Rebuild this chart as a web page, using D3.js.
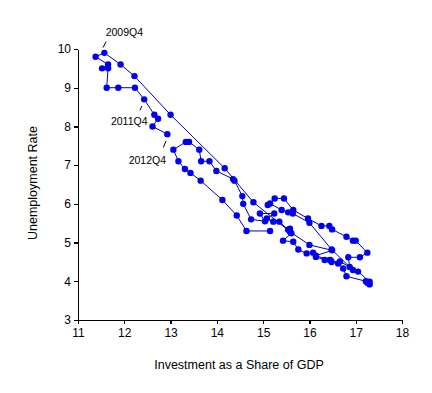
<!DOCTYPE html>
<html>
<head>
<meta charset="utf-8">
<script src="https://cdn.jsdelivr.net/npm/d3@7"></script>
<style>
  body { margin: 0; background: #fff; }
  text { font-family: Arial, "Liberation Sans", sans-serif; fill: #000; }
</style>
</head>
<body>
<svg id="chart" width="432" height="393"></svg>
<script>
// Investment share of GDP vs unemployment rate, quarterly 1990Q1 - 2012Q4

const invest = [
  15.15, 14.64, 14.43, 14.12,
  13.65, 13.43, 13.31, 13.17,
  13.06, 13.33, 13.40, 13.62,
  13.66, 13.84, 13.99, 14.35,
  14.38, 14.55, 14.57, 14.74,
  15.04, 14.93, 15.24, 15.08,
  15.22, 15.35, 15.54, 15.58,
  15.61, 15.43, 15.65, 15.76,
  15.94, 16.08, 16.14, 16.33,
  16.44, 16.62, 16.73, 16.80,
  17.22, 17.30, 17.25, 17.30,
  17.05, 16.94, 16.48, 16.00,
  15.64, 15.54, 15.40, 15.15,
  15.10, 15.25, 15.45, 15.65,
  15.97, 16.26, 16.43, 16.49,
  16.80, 16.94, 17.00, 17.25,
  17.09, 16.84, 16.87, 16.66,
  16.48, 16.46, 16.14, 16.49,
  16.00, 15.58, 14.79, 14.17,
  13.00, 12.22, 11.92, 11.57,
  11.38, 11.65, 11.52, 11.65,
  11.62, 11.87, 12.23, 12.43,
  12.65, 12.73, 12.61, 12.93
];

const unemp = [
  5.3, 5.3, 5.7, 6.1,
  6.6, 6.8, 6.9, 7.1,
  7.4, 7.6, 7.6, 7.4,
  7.1, 7.1, 6.85, 6.64,
  6.6, 6.2, 6.0, 5.6,
  5.55, 5.75, 5.75, 5.62,
  5.54, 5.54, 5.33, 5.36,
  5.24, 5.05, 5.02, 4.82,
  4.72, 4.74, 4.63, 4.55,
  4.55, 4.46, 4.33, 4.13,
  4.0, 3.92, 3.96, 3.99,
  4.25, 4.29, 4.82, 5.51,
  5.75, 5.78, 5.84, 6.01,
  5.97, 6.14, 6.14, 5.84,
  5.62, 5.43, 5.43, 5.34,
  5.15, 5.05, 5.05, 4.74,
  4.62, 4.62, 4.37, 4.51,
  4.50, 4.54, 4.66, 4.80,
  4.94, 5.28, 6.04, 6.92,
  8.3, 9.3, 9.6, 9.9,
  9.8, 9.6, 9.5, 9.5,
  9.0, 9.0, 9.0, 8.7,
  8.3, 8.2, 8.0, 7.8
];

// labelled quarters and their position in the series
const noteLabels = ['2009Q4', '2011Q4', '2012Q4'];
const noteIndex = [79, 87, 91];

const xTicks = [11, 12, 13, 14, 15, 16, 17, 18];
const yTicks = [3, 4, 5, 6, 7, 8, 9, 10];

const svg = d3.select('#chart');

const x = d3.scaleLinear().domain([11, 18]).range([78, 402]);
const y = d3.scaleLinear().domain([3, 10]).range([320, 49]);

const points = invest.map((v, i) => ({x: v, y: unemp[i]}));

// axes
const xAxis = svg.append('g')
  .attr('transform', 'translate(0,320)')
  .call(d3.axisBottom(x).tickValues(xTicks).tickFormat(d3.format('d'))
    .tickSize(4).tickSizeOuter(0).tickPadding(4));
xAxis.selectAll('text').style('font-size', '12px');

const yAxis = svg.append('g')
  .attr('transform', 'translate(78,0)')
  .call(d3.axisLeft(y).tickValues(yTicks).tickFormat(d3.format('d'))
    .tickSize(4).tickSizeOuter(0).tickPadding(3));
yAxis.selectAll('text').style('font-size', '12px');

svg.selectAll('.domain, .tick line')
  .attr('stroke', '#000')
  .attr('stroke-width', 1.3)
  .attr('shape-rendering', 'crispEdges');

// axis titles
svg.append('text')
  .attr('x', 239)
  .attr('y', 369)
  .attr('text-anchor', 'middle')
  .style('font-size', '12.5px')
  .text('Investment as a Share of GDP');

svg.append('text')
  .attr('transform', 'translate(37,183) rotate(-90)')
  .attr('text-anchor', 'middle')
  .style('font-size', '12.5px')
  .text('Unemployment Rate');

// connecting path
const line = d3.line().x(d => x(d.x)).y(d => y(d.y));
svg.append('path')
  .datum(points)
  .attr('d', line)
  .attr('fill', 'none')
  .attr('stroke', '#0000c0')
  .attr('stroke-width', 1);

// quarterly points
svg.append('g')
  .selectAll('circle')
  .data(points)
  .enter()
  .append('circle')
    .attr('cx', d => x(d.x))
    .attr('cy', d => y(d.y))
    .attr('r', 3.2)
    .attr('fill', '#0000ee');

// annotations: leader line and label offset from each point
const noteStyle = [
  {l1: [-1.3, -5.3], l2: [1.7, -11.3], t: [20, -17]},
  {l1: [-4.3, 11], l2: [-2.3, 6.7], t: [-15, 25.7]},
  {l1: [-4, 13.4], l2: [-1.3, 6.7], t: [-20, 29.7]}
];

noteLabels.forEach((label, k) => {
  const p = points[noteIndex[k]];
  const px = x(p.x), py = y(p.y);
  const s = noteStyle[k];
  svg.append('line')
    .attr('x1', px + s.l1[0]).attr('y1', py + s.l1[1])
    .attr('x2', px + s.l2[0]).attr('y2', py + s.l2[1])
    .attr('stroke', '#000')
    .attr('stroke-width', 1);
  svg.append('text')
    .attr('x', px + s.t[0])
    .attr('y', py + s.t[1])
    .attr('text-anchor', 'middle')
    .style('font-size', '10.5px')
    .text(label);
});
</script>
</body>
</html>
